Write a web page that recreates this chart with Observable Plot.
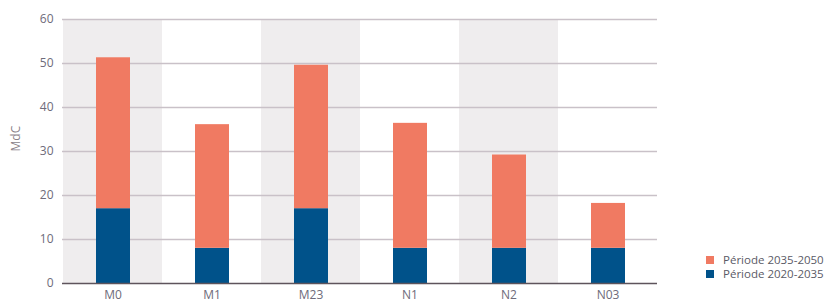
<!DOCTYPE html>
<html>
<head>
<meta charset="utf-8">
<script src="https://cdn.jsdelivr.net/npm/d3@7"></script>
<script src="https://cdn.jsdelivr.net/npm/@observablehq/plot@0.6"></script>
<style>
  html, body { margin: 0; padding: 0; background: #fff; }
  #wrap { position: relative; width: 834px; height: 303px; overflow: hidden; font-family: "Open Sans", sans-serif; }
  #legend { position: absolute; left: 706px; top: 253px; font-size: 11.5px; color: #5a5a66; line-height: 14px; }
  #legend .item { display: flex; align-items: center; white-space: nowrap; height: 14px; }
  #legend .sw { width: 8px; height: 8px; margin-right: 9px; display: inline-block; }
</style>
</head>
<body>
<div id="wrap">
  <div id="chart"></div>
  <div id="legend"></div>
</div>
<script>
const categories = ["M0", "M1", "M23", "N1", "N2", "N03"];
const period2020_2035 = [17, 8, 17, 8, 8, 8];
const period2035_2050 = [34.3, 28.1, 32.6, 28.4, 21.2, 10.2];
const seriesNames = ["Période 2020-2035", "Période 2035-2050"];
const seriesColors = ["#00528a", "#f07a62"];
const shadedCategories = ["M0", "M23", "N2"];
const yTicks = [0, 10, 20, 30, 40, 50, 60];

const rows = [];
categories.forEach((c, i) => {
  rows.push({cat: c, series: seriesNames[0], value: period2020_2035[i]});
  rows.push({cat: c, series: seriesNames[1], value: period2035_2050[i]});
});

const chart = Plot.plot({
  width: 834,
  height: 303,
  marginLeft: 62,
  marginRight: 177,
  marginTop: 19,
  marginBottom: 20,
  style: {fontFamily: "Open Sans, sans-serif", fontSize: "12px", color: "#6e6b7a", background: "transparent"},
  x: {domain: categories, padding: 0, label: null},
  y: {domain: [0, 60], ticks: yTicks, label: null},
  color: {domain: seriesNames, range: seriesColors},
  marks: [
    Plot.barY(shadedCategories, {x: d => d, y1: 0, y2: 60, fill: "#efedee"}),
    Plot.ruleY(yTicks.filter(d => d > 0), {stroke: "#c9c1c8", strokeWidth: 1.5}),
    Plot.barY(rows, {x: "cat", y: "value", fill: "series", order: seriesNames, insetLeft: 33, insetRight: 32}),
    Plot.ruleY([0], {stroke: "#5e545c", strokeWidth: 1.5}),
    Plot.axisY({ticks: yTicks, tickSize: 0, tickPadding: 9, label: null}),
    Plot.axisX({tickSize: 0, tickPadding: 7, label: null}),
    Plot.text(["MdC"], {frameAnchor: "left", dx: -46, rotate: -90, text: d => d, fill: "#8a7f88", fontSize: 12, letterSpacing: "2px"})
  ]
});
document.getElementById("chart").appendChild(chart);

const legend = document.getElementById("legend");
[1, 0].forEach(i => {
  const item = document.createElement("div");
  item.className = "item";
  const sw = document.createElement("span");
  sw.className = "sw";
  sw.style.background = seriesColors[i];
  item.appendChild(sw);
  item.appendChild(document.createTextNode(seriesNames[i]));
  legend.appendChild(item);
});
</script>
</body>
</html>
